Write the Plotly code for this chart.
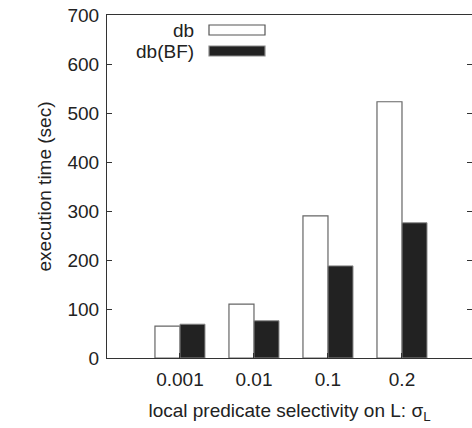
import plotly.graph_objects as go

categories = ["0.001", "0.01", "0.1", "0.2"]
series_names = ["db", "db(BF)"]
db_values = [65, 110, 290, 523]
dbbf_values = [69, 76, 188, 276]
y_ticks = [0, 100, 200, 300, 400, 500, 600, 700]

W, H = 472, 428
L, R, T, B = 107, 0, 15, 70
pw, ph = W - L - R, H - T - B

def px(x):
    return (x - L) / pw

def py(y):
    return (H - B - y) / ph

font = "Liberation Sans, Arial, Helvetica, sans-serif"
txt = "#222222"
axc = "#333333"

xpos = list(range(len(categories)))

fig = go.Figure()
fig.add_trace(go.Bar(x=xpos, y=db_values, name=series_names[0],
                     marker=dict(color="white", line=dict(color="#666666", width=1.2)),
                     showlegend=False))
fig.add_trace(go.Bar(x=xpos, y=dbbf_values, name=series_names[1],
                     marker=dict(color="#222222", line=dict(color="#8a8a8a", width=1)),
                     showlegend=False))

# manual legend (text left of the sample, as in the reference)
leg = [(series_names[0], "white", "#555555", 30), (series_names[1], "#222222", "#8a8a8a", 51)]
anns = []
shapes = []
for name, fill, line, yc in leg:
    anns.append(dict(x=px(196), y=py(yc), xref="paper", yref="paper", text=name,
                     showarrow=False, xanchor="right", yanchor="middle",
                     font=dict(family=font, size=19, color=txt)))
    shapes.append(dict(type="rect", xref="paper", yref="paper",
                       x0=px(209), x1=px(265), y0=py(yc + 5), y1=py(yc - 5),
                       fillcolor=fill, line=dict(color=line, width=1.2)))

fig.update_layout(
    width=W, height=H,
    margin=dict(l=L, r=R, t=T, b=B),
    paper_bgcolor="white", plot_bgcolor="white",
    barmode="group", bargap=0.324, bargroupgap=0,
    font=dict(family=font, size=19, color=txt),
    annotations=anns, shapes=shapes,
    xaxis=dict(range=[-0.986, 3.946], tickvals=xpos, ticktext=categories,
               showline=True, linecolor=axc, linewidth=1, mirror=True,
               ticks="inside", ticklen=5, tickcolor=axc, showgrid=False, zeroline=False,
               tickfont=dict(size=19, color=txt), ticklabelstandoff=4,
               title=dict(text="local predicate selectivity on L: σ<sub>L</sub>",
                          font=dict(size=19, color=txt), standoff=14)),
    yaxis=dict(range=[0, 700], tickvals=y_ticks,
               showline=True, linecolor=axc, linewidth=1, mirror="ticks",
               ticks="inside", ticklen=5, tickcolor=axc, showgrid=False, zeroline=False,
               tickfont=dict(size=19, color=txt), ticklabelstandoff=3,
               ticklabeloverflow="allow",
               title=dict(text="execution time (sec)", font=dict(size=19, color=txt), standoff=10)),
)

fig.write_html("out.html", config={"displayModeBar": False},
               post_script="document.body.style.margin='0';document.body.style.overflow='hidden';")
